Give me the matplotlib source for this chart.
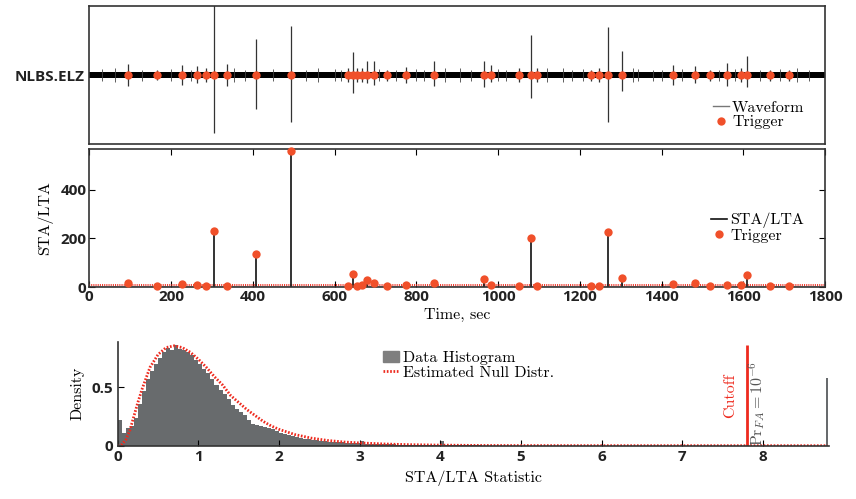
import numpy as np
import matplotlib
matplotlib.use("Agg")
import matplotlib.pyplot as plt
from matplotlib.lines import Line2D
from matplotlib.patches import Patch

plt.rcParams['mathtext.fontset'] = 'cm'
plt.rcParams['axes.unicode_minus'] = False

# ---------------- data ----------------
trigger_times = [95, 165, 228, 263, 285, 304, 336, 408, 493, 634, 644, 654, 666, 680, 697,
                 728, 775, 843, 966, 982, 1051, 1081, 1096, 1227, 1248, 1270, 1304, 1429,
                 1482, 1519, 1560, 1595, 1610, 1666, 1711]
trigger_stalta = [17, 3, 11, 7, 5.5, 229, 3, 135, 560, 3, 52, 5.5, 9.6, 27, 16.5,
                  5.5, 7, 18, 33, 8, 5.5, 202, 4, 5.5, 3, 227, 36, 11,
                  16.5, 4, 8, 8, 51, 4, 4]
wave_up = [0.16, 0.07, 0.14, 0.13, 0.10, 1.10, 0.16, 0.52, 0.71, 0.10, 0.33, 0.10, 0.10, 0.20, 0.20,
           0.08, 0.12, 0.20, 0.20, 0.15, 0.10, 0.58, 0.10, 0.08, 0.10, 0.70, 0.35, 0.15,
           0.13, 0.08, 0.18, 0.10, 0.28, 0.08, 0.08]
wave_down = [0.15, 0.07, 0.14, 0.12, 0.10, 0.84, 0.16, 0.49, 0.68, 0.10, 0.26, 0.10, 0.10, 0.12, 0.14,
             0.08, 0.12, 0.15, 0.17, 0.10, 0.10, 0.33, 0.10, 0.08, 0.10, 0.68, 0.23, 0.14,
             0.12, 0.08, 0.15, 0.10, 0.17, 0.08, 0.08]
burst_times = [30, 63, 130, 200, 250, 355, 380, 450, 530, 560, 600, 615, 710, 750, 800, 820,
               870, 907, 935, 1000, 1020, 1120, 1159, 1180, 1208, 1330, 1343, 1380, 1400,
               1450, 1540, 1580, 1640, 1690, 1731, 1760]
burst_amp = [0.09, 0.10, 0.08, 0.09, 0.08, 0.10, 0.08, 0.09, 0.08, 0.10, 0.09, 0.08, 0.09, 0.08,
             0.09, 0.08, 0.10, 0.10, 0.08, 0.09, 0.08, 0.10, 0.10, 0.08, 0.09, 0.10, 0.09, 0.08,
             0.08, 0.09, 0.08, 0.09, 0.08, 0.09, 0.10, 0.08]
noise_level = 0.04
time_span = [0, 1800]
stalta_baseline = 1.0
cutoff = 7.8

hist_start = 0.0
hist_width = 0.05
hist_density = [0.22, 0.11, 0.15, 0.17, 0.24, 0.36, 0.47, 0.57, 0.64, 0.70,
                0.75, 0.80, 0.84, 0.82, 0.86, 0.83, 0.82, 0.80, 0.78, 0.73,
                0.70, 0.66, 0.62, 0.57, 0.52, 0.48, 0.44, 0.40, 0.35, 0.31,
                0.29, 0.26, 0.22, 0.19, 0.18, 0.17, 0.16, 0.15, 0.14, 0.13,
                0.11, 0.10, 0.09, 0.08, 0.075, 0.07, 0.06, 0.055, 0.05, 0.045,
                0.04, 0.038, 0.035, 0.032, 0.03, 0.028, 0.026, 0.024, 0.022, 0.02,
                0.04, 0.018, 0.017, 0.016, 0.015, 0.014, 0.013, 0.012, 0.011, 0.010,
                0.009, 0.009, 0.008, 0.008, 0.007, 0.007, 0.006, 0.006, 0.005, 0.005,
                0.04, 0.005, 0.004, 0.004, 0.004, 0.003, 0.003, 0.003, 0.003, 0.002]
outlier_x = [8.8]
outlier_density = [0.58]

null_x = [0, 0.05, 0.1, 0.15, 0.2, 0.25, 0.3, 0.4, 0.5, 0.6, 0.7, 0.8, 0.9, 1.0, 1.1, 1.2,
          1.3, 1.4, 1.5, 1.6, 1.7, 1.8, 1.9, 2.0, 2.2, 2.4, 2.6, 2.8, 3.0, 3.3, 3.6, 4.0,
          4.5, 5.0, 6.0, 8.8]
null_y = [0, 0.01, 0.05, 0.13, 0.25, 0.37, 0.48, 0.67, 0.78, 0.84, 0.855, 0.84, 0.80, 0.74,
          0.67, 0.59, 0.52, 0.43, 0.37, 0.31, 0.26, 0.21, 0.17, 0.14, 0.095, 0.065, 0.045,
          0.032, 0.024, 0.015, 0.009, 0.005, 0.002, 0.001, 0.0003, 0]

# ---------------- style ----------------
TRIG = '#f0502a'
RED = '#ee2a1e'
SPINE = '#333333'
serif = 'cmr10'
LAB = 11.5
TICK = 11
DOTS = (0, (0.6, 0.6))

fig = plt.figure(figsize=(8.56, 4.99), dpi=100)

def style_ticks(ax):
    for lab in ax.get_xticklabels() + ax.get_yticklabels():
        lab.set_fontfamily('Open Sans')
        lab.set_fontweight('bold')
        lab.set_fontsize(TICK)
        lab.set_color('#222222')

# ---- top: waveform ----
ax1 = fig.add_axes([0.1043, 0.7108, 0.8595, 0.2772])
ax1.fill_between(time_span, [-noise_level] * 2, [noise_level] * 2, color='black', lw=0)
ax1.vlines(burst_times, [-a for a in burst_amp], burst_amp, color='#444444', lw=0.6)
ax1.vlines(trigger_times, [-d for d in wave_down], wave_up, color='#333333', lw=0.9)
ax1.plot(trigger_times, [0] * len(trigger_times), 'o', color=TRIG, ms=6, mec='none')
ax1.set_xlim(0, 1800)
ax1.set_ylim(-1, 1)
ax1.set_xticks([])
ax1.set_yticks([0])
ax1.set_yticklabels(['NLBS.ELZ'])
ax1.tick_params(axis='y', direction='in', length=3, pad=3)
for s in ax1.spines.values():
    s.set_color(SPINE); s.set_linewidth(1.2)
style_ticks(ax1)
h1 = [Line2D([], [], color='#777777', lw=1), Line2D([], [], ls='none', marker='o', color=TRIG, ms=6, mec='none')]
ax1.legend(h1, ['Waveform', 'Trigger'], loc='lower right', bbox_to_anchor=(0.985, 0.04),
           frameon=False, prop=dict(family=serif, size=LAB), handlelength=1.0,
           handletextpad=0.2, labelspacing=0.0, borderpad=0.1)

# ---- middle: STA/LTA ----
ax2 = fig.add_axes([0.1043, 0.4248, 0.8595, 0.2760])
ax2.axhline(cutoff, color=RED, ls=DOTS, lw=1.3)
ax2.axhline(stalta_baseline, color='black', lw=1.0)
ax2.vlines(trigger_times, 0, trigger_stalta, color='#111111', lw=1.2)
ax2.plot(trigger_times, trigger_stalta, 'o', color=TRIG, ms=6, mec='none', clip_on=False, zorder=5)
ax2.set_xlim(0, 1800)
ax2.set_ylim(0, 565)
ax2.set_xticks(np.arange(0, 1801, 200))
ax2.set_yticks([0, 200, 400])
ax2.tick_params(direction='in', top=True, right=True, length=4, pad=2)
for s in ax2.spines.values():
    s.set_color(SPINE); s.set_linewidth(1.2)
style_ticks(ax2)
ax2.set_ylabel('STA/LTA', family=serif, size=LAB, labelpad=5)
ax2.set_xlabel('Time, sec', family=serif, size=LAB, labelpad=3)
h2 = [Line2D([], [], color='#111111', lw=1.2), Line2D([], [], ls='none', marker='o', color=TRIG, ms=6, mec='none')]
ax2.legend(h2, ['STA/LTA', 'Trigger'], loc='center right', bbox_to_anchor=(0.985, 0.43),
           frameon=False, prop=dict(family=serif, size=LAB), handlelength=1.0,
           handletextpad=0.2, labelspacing=0.0, borderpad=0.1)

# ---- bottom: histogram ----
ax3 = fig.add_axes([0.1375, 0.1068, 0.8310, 0.2084])
hx = hist_start + hist_width * np.arange(len(hist_density))
ax3.bar(hx, hist_density, width=hist_width, align='edge', color='#686b6d', lw=0)
ax3.bar(outlier_x, outlier_density, width=0.025, align='center', color='#686b6d', lw=0)
ax3.plot(null_x, null_y, color=RED, ls=DOTS, lw=2.0)
ax3.vlines([cutoff], 0, 0.86, color=RED, lw=2)
ax3.text(cutoff - 0.2, 0.43, 'Cutoff', color=RED, rotation=90, ha='center', va='center',
         family=serif, size=LAB)
ax3.text(cutoff + 0.13, 0.0, r'$\mathrm{Pr}_{FA}=10^{-6}$', color='#555555', rotation=90,
         ha='center', va='bottom', size=LAB)
ax3.set_xlim(0, 8.82)
ax3.set_ylim(0, 0.89)
ax3.set_xticks(np.arange(0, 9, 1))
ax3.set_yticks([0, 0.5])
ax3.set_yticklabels(['0', '0.5'])
ax3.tick_params(direction='in', length=4, pad=3)
ax3.spines['top'].set_visible(False)
ax3.spines['right'].set_visible(False)
for s in ['left', 'bottom']:
    ax3.spines[s].set_color(SPINE); ax3.spines[s].set_linewidth(1.2)
style_ticks(ax3)
ax3.set_ylabel('Density', family=serif, size=LAB, labelpad=5)
ax3.set_xlabel('STA/LTA Statistic', family=serif, size=LAB, labelpad=5)
h3 = [Patch(color='#7f7f7f'), Line2D([], [], color=RED, ls=DOTS, lw=2.0)]
ax3.legend(h3, ['Data Histogram', 'Estimated Null Distr.'], loc='upper left',
           bbox_to_anchor=(0.36, 1.0), frameon=False, prop=dict(family=serif, size=LAB),
           handlelength=1.0, handletextpad=0.2, labelspacing=0.0, borderpad=0.1)

fig.savefig('out.png', dpi=100)
